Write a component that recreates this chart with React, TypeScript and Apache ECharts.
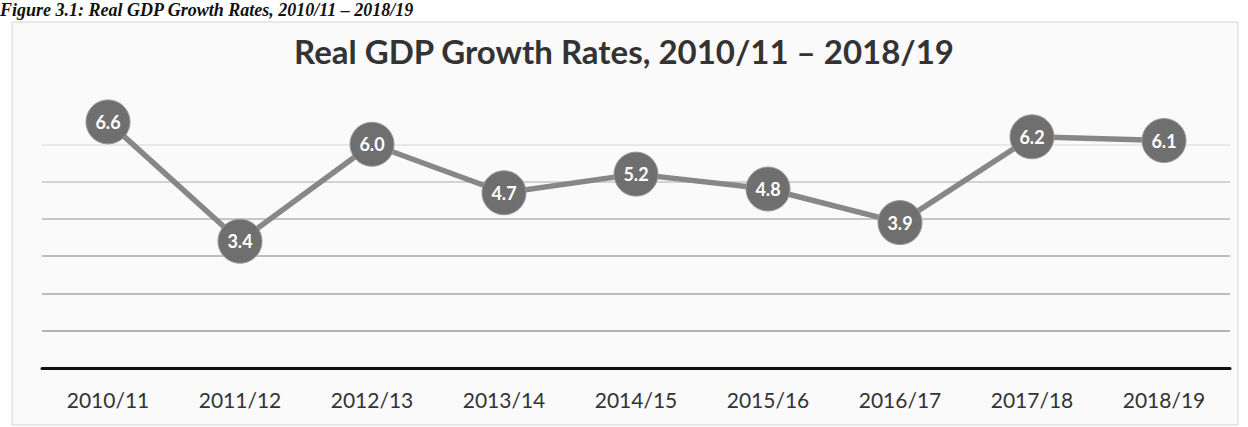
import React, { useEffect, useRef } from "react";
import * as echarts from "echarts";

const categories = ["2010/11", "2011/12", "2012/13", "2013/14", "2014/15", "2015/16", "2016/17", "2017/18", "2018/19"];
const growth = [6.6, 3.4, 6.0, 4.7, 5.2, 4.8, 3.9, 6.2, 6.1];
const titleText = "Real GDP Growth Rates, 2010/11 \u2013 2018/19";
const captionText = "Figure 3.1: Real GDP Growth Rates, 2010/11 \u2013 2018/19";

export default function App() {
  const ref = useRef<HTMLDivElement>(null);
  useEffect(() => {
    if (!ref.current) return;
    const chart = echarts.init(ref.current, null, { renderer: "svg" });
    chart.setOption({
      animation: false,
      backgroundColor: "#ffffff",
      graphic: [
        {
          type: "rect",
          shape: { x: 12, y: 22, width: 1226, height: 403 },
          style: { fill: "#fafafa", stroke: "#d4d4d4", lineWidth: 1 },
          z: -10,
        },
        {
          type: "text",
          left: 0,
          top: 1,
          style: {
            text: captionText,
            font: "italic bold 18px 'Liberation Serif'",
            fill: "#111",
          },
        },
      ],
      title: {
        text: titleText,
        left: "center",
        top: 29,
        textStyle: { fontFamily: "Lato", fontWeight: "bold", fontSize: 33, color: "#333" },
      },
      grid: { left: 42, right: 18, top: 107, bottom: 59 },
      xAxis: {
        type: "category",
        data: categories,
        boundaryGap: true,
        axisLine: { lineStyle: { color: "#111", width: 3 } },
        axisTick: { show: false },
        axisLabel: { color: "#333", fontFamily: "Lato", fontSize: 21, margin: 21 },
      },
      yAxis: {
        type: "value",
        min: 0,
        max: 7,
        interval: 1,
        axisLabel: { show: false },
        axisLine: { show: false },
        axisTick: { show: false },
        splitLine: {
          lineStyle: {
            color: ["transparent", "#9a9a9a", "#a4a4a4", "#aaaaaa", "#b4b4b4", "#c4c4c4", "#e2e2e2", "transparent"],
            width: 1.5,
          },
        },
      },
      series: [
        {
          type: "line",
          data: growth,
          symbol: "circle",
          symbolSize: 44,
          lineStyle: { color: "#878787", width: 5.5 },
          itemStyle: { color: "#6f6f6f", borderColor: "#999999", borderWidth: 1 },
          label: {
            show: true,
            position: "inside",
            formatter: (p: any) => p.value.toFixed(1),
            color: "#ffffff",
            fontFamily: "Lato",
            fontWeight: "bold",
            fontSize: 18,
          },
        },
      ],
    });
    return () => chart.dispose();
  }, []);
  return <div ref={ref} style={{ width: 1248, height: 427, position: "absolute", left: 0, top: 0 }} />;
}
